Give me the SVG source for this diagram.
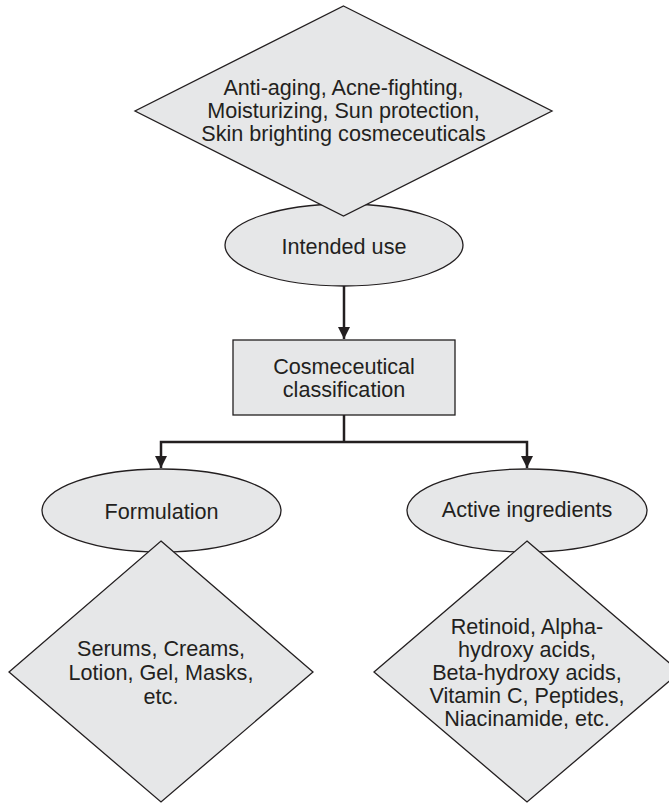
<svg xmlns="http://www.w3.org/2000/svg" width="669" height="803" viewBox="0 0 669 803">
<defs>
<style>
.shape{fill:#e6e7e8;stroke:#231f20;stroke-width:1.3}
.t{font-family:"Liberation Sans",Arial,sans-serif;font-size:21.6px;fill:#231f20;text-anchor:middle}
.conn{fill:none;stroke:#231f20;stroke-width:2.5}
</style>
<marker id="ah" markerUnits="userSpaceOnUse" markerWidth="14" markerHeight="14" viewBox="0 0 14 14" refX="13" refY="7" orient="auto">
<path d="M1,1 L13,7 L1,13 Z" fill="#231f20"/>
</marker>
</defs>
<rect width="669" height="803" fill="#ffffff"/>
<g id="intended-use">
<ellipse class="shape" cx="344" cy="245" rx="119" ry="41"/>
<text class="t" x="344" y="254">Intended use</text>
</g>
<g id="uses">
<polygon class="shape" points="343.5,6 552,111 343.5,216 135,111"/>
<text class="t" x="343.5" y="94.5">Anti-aging, Acne-fighting,</text>
<text class="t" x="343.5" y="117.5">Moisturizing, Sun protection,</text>
<text class="t" x="343.5" y="140.5">Skin brighting cosmeceuticals</text>
</g>
<g id="classification">
<rect class="shape" x="233" y="340" width="222" height="75"/>
<text class="t" x="344" y="373.5">Cosmeceutical</text>
<text class="t" x="344" y="396.5">classification</text>
</g>
<g id="formulation">
<ellipse class="shape" cx="161.5" cy="510.5" rx="119.5" ry="41.5"/>
<text class="t" x="161.5" y="519">Formulation</text>
</g>
<g id="active-ingredients">
<ellipse class="shape" cx="527" cy="510.5" rx="120" ry="41.5"/>
<text class="t" x="527" y="517">Active ingredients</text>
</g>
<g id="formulation-examples">
<polygon class="shape" points="161,541 313,672 161,802 9,672"/>
<text class="t" x="161" y="655.5">Serums, Creams,</text>
<text class="t" x="161" y="679.5">Lotion, Gel, Masks,</text>
<text class="t" x="161" y="704">etc.</text>
</g>
<g id="ingredient-examples">
<polygon class="shape" points="527,541 680,672 527,802 374,672"/>
<text class="t" x="527" y="633.5">Retinoid, Alpha-</text>
<text class="t" x="527" y="656.5">hydroxy acids,</text>
<text class="t" x="527" y="679.5">Beta-hydroxy acids,</text>
<text class="t" x="527" y="702.5">Vitamin C, Peptides,</text>
<text class="t" x="527" y="725.5">Niacinamide, etc.</text>
</g>
<g id="connectors">
<path class="conn" d="M344,286 V339" marker-end="url(#ah)"/>
<path class="conn" d="M344,415 V442"/>
<path class="conn" d="M344,442 H161 V468" marker-end="url(#ah)"/>
<path class="conn" d="M344,442 H527 V468" marker-end="url(#ah)"/>
</g>
</svg>
